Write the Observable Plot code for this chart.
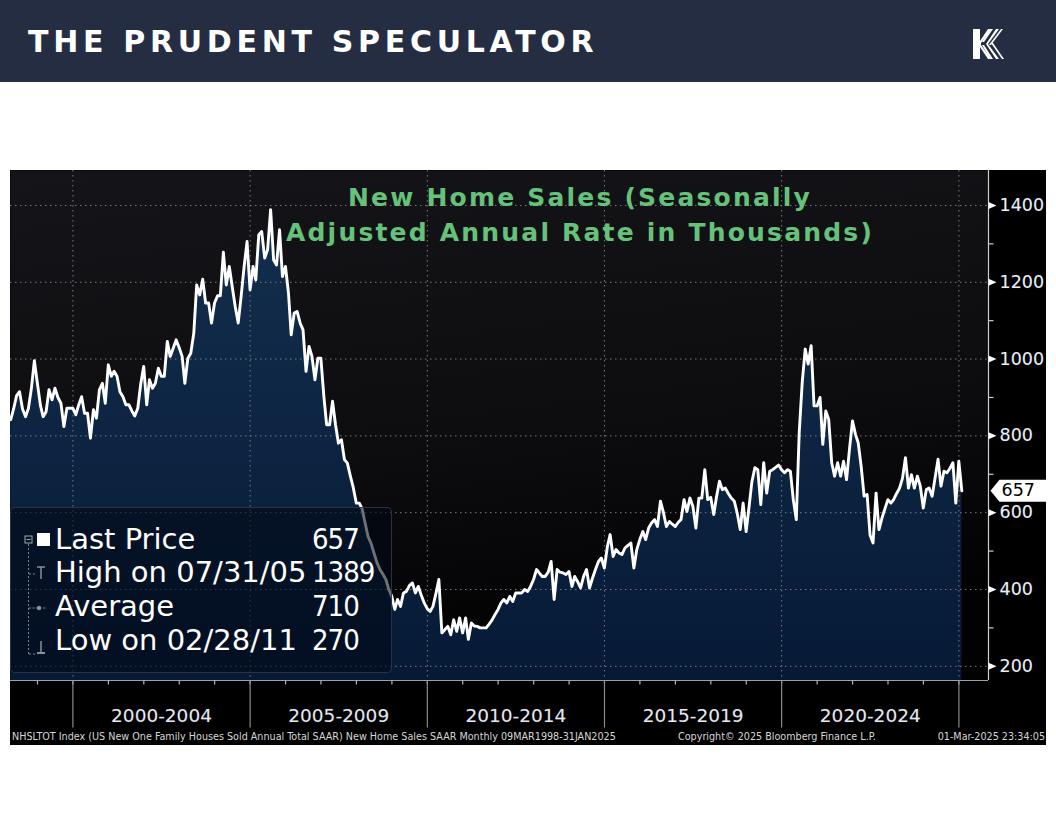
<!DOCTYPE html>
<html><head><meta charset="utf-8">
<script src="https://cdn.jsdelivr.net/npm/d3@7"></script>
<script src="https://cdn.jsdelivr.net/npm/@observablehq/plot@0.6"></script>
<style>
body{margin:0;width:1056px;height:816px;background:#fff;position:relative;overflow:hidden;font-family:"DejaVu Sans",sans-serif}
#header{position:absolute;left:0;top:0;width:1056px;height:82px;background:#252d42}
#brand{position:absolute;left:28px;top:24px;color:#fff;font-weight:700;font-size:30px;font-family:"DejaVu Sans";letter-spacing:4.7px;white-space:nowrap}
#logo{position:absolute;left:970px;top:26px}
#chart{position:absolute;left:10px;top:170px;width:1036px;height:575px;background:#000;overflow:hidden}
#title{position:absolute;left:220px;top:10px;width:700px;text-align:center;color:#66c27a;font-weight:700;font-size:25px;line-height:35px;letter-spacing:2.2px;font-family:"DejaVu Sans"}
#legend{position:absolute;left:0px;top:337px;width:382px;height:166px;background:rgba(1,8,20,0.58);border:1px solid rgba(45,55,75,0.9);border-radius:5px;box-sizing:border-box}
.lrow{position:absolute;left:44px;color:#fff;font-size:29px;font-family:"DejaVu Sans";white-space:nowrap;line-height:1}
.lval{position:absolute;left:301px;color:#fff;font-size:29px;font-family:"DejaVu Sans Condensed","DejaVu Sans";letter-spacing:-1px;white-space:nowrap;line-height:1}
#lic{position:absolute;left:0;top:0}
.foot{position:absolute;top:562px;color:#d6d6d6;font-size:10.7px;font-family:"DejaVu Sans Condensed","DejaVu Sans";white-space:nowrap;line-height:1}
</style></head>
<body>
<div id="header"><div id="brand">THE PRUDENT SPECULATOR</div>
<svg id="logo" width="34" height="36" viewBox="0 0 34 36">
 <path d="M3 3 h7 v12 l8 -12 h3 l-10 14 v2 l10 14 h-3 l-8 -12 v12 h-7 z" fill="#fff"/>
 <path d="M20 3 h3 l-9 13 h-2 z M26 3 h3 l-11 15 h-2 z M31 3 h2 l-12 16 h-2 z" fill="#fff"/>
 <path d="M12 19 h2 l9 14 h-3 z M16 18 h2 l11 15 h-3 z M21 17 h2 l11 16 h-2 z" fill="#fff"/>
</svg>
</div>
<div id="chart"></div>
<script>
// ---- data (monthly, NHSLTOT, thousands SAAR), Mar 1998 .. Jan 2025 ----
const seriesStart = [1998, 3]; // year, month of first value
const sales = [
  // 1998 Mar-Dec
  842, 870, 905, 915, 870, 850, 872, 925, 996, 937,
  // 1999
  880, 850, 863, 920, 894, 924, 900, 885, 824, 872, 872, 872,
  // 2000
  855, 880, 902, 859, 859, 794, 868, 846, 920, 937, 885, 985,
  // 2001
  955, 968, 955, 915, 902, 881, 881, 865, 852, 872, 935, 981,
  // 2002
  881, 946, 924, 937, 976, 955, 955, 1046, 1007, 1028, 1050, 1030,
  // 2003
  1007, 937, 1002, 1015, 1067, 1193, 1167, 1208, 1146, 1146, 1094, 1146,
  // 2004
  1165, 1165, 1278, 1193, 1241, 1189, 1137, 1094, 1163, 1241, 1306, 1180,
  // 2005
  1241, 1206, 1324, 1332, 1263, 1285, 1389, 1258, 1245, 1337, 1215, 1241,
  // 2006
  1172, 1063, 1120, 1124, 1094, 1076, 968, 1033, 1007, 946, 1002, 1002,
  // 2007
  902, 829, 829, 890, 829, 781, 790, 738, 729, 695, 665, 625,
  // 2008
  625, 610, 573, 538, 520, 495, 470, 452, 440, 426, 400, 382,
  // 2009
  348, 374, 356, 391, 395, 410, 417, 391, 408, 385, 365, 350,
  // 2010
  343, 356, 390, 426, 287, 295, 304, 282, 321, 291, 326, 287,
  // 2011
  326, 270, 313, 305, 304, 300, 300, 300, 310, 321, 335, 348,
  // 2012
  365, 374, 365, 382, 369, 391, 391, 391, 400, 395, 408, 426,
  // 2013
  452, 443, 434, 434, 445, 473, 374, 452, 445, 443, 439, 447,
  // 2014
  408, 434, 420, 404, 434, 452, 404, 430, 452, 473, 482, 456,
  // 2015
  512, 543, 486, 504, 495, 491, 508, 515, 521, 456, 504, 530,
  // 2016
  551, 530, 560, 573, 582, 564, 630, 600, 564, 577, 570, 564,
  // 2017
  575, 582, 634, 603, 638, 617, 560, 638, 638, 712, 634, 640,
  // 2018
  595, 640, 682, 660, 664, 650, 638, 630, 599, 556, 625, 551,
  // 2019
  617, 680, 717, 712, 621, 730, 651, 708, 712, 718, 724, 712,
  // 2020
  704, 712, 708, 634, 582, 808, 939, 1026, 987, 1035, 878, 878,
  // 2021
  900, 778, 865, 843, 730, 695, 730, 695, 734, 686, 765, 839,
  // 2022
  804, 782, 720, 643, 647, 542, 521, 651, 556, 586, 610, 634,
  // 2023
  625, 634, 650, 664, 690, 743, 664, 699, 664, 695, 669, 612,
  // 2024
  660, 664, 643, 690, 739, 669, 708, 704, 715, 730, 625, 734,
  // 2025 Jan
  657
];
const yTicks = [200, 400, 600, 800, 1000, 1200, 1400];
const yMinor = [300, 500, 700, 900, 1100, 1300];
const periodLabels = ["2000-2004", "2005-2009", "2010-2014", "2015-2019", "2020-2024"];
const periodStarts = [2000, 2005, 2010, 2015, 2020, 2025];
const yearTicks = d3.range(1999, 2026);
const titleLines = ["New Home Sales (Seasonally", "Adjusted Annual Rate in Thousands)"];
const legendLabels = ["Last Price", "High on 07/31/05", "Average", "Low on 02/28/11"];
const legendValues = [657, 1389, 710, 270];
const footLeft = "NHSLTOT Index (US New One Family Houses Sold Annual Total SAAR) New Home Sales SAAR  Monthly 09MAR1998-31JAN2025";
const footMid = "Copyright\u00A9 2025 Bloomberg Finance L.P.";
const footRight = "01-Mar-2025 23:34:05";

// ---- build table ----
const data = sales.map((v, i) => ({date: new Date(seriesStart[0], seriesStart[1] - 1 + i + 1, 0), value: v}));
const lastValue = sales[sales.length - 1];
const x0 = new Date(1998, 2, 29), x1 = new Date(2025, 10, 2);
const yMin = 163, yMax = 1491;

const tri = {draw(c){ c.moveTo(0,-3.5); c.lineTo(8,0); c.lineTo(0,3.5); c.closePath(); }};
const minorTick = {draw(c){ c.moveTo(0,0); c.lineTo(5,0); }};
const yearTick = {draw(c){ c.moveTo(0,0); c.lineTo(0,4); }};
const sepTick = {draw(c){ c.moveTo(0,0); c.lineTo(0,47); }};
const priceTag = {draw(c){ c.moveTo(2,0); c.lineTo(11,-11); c.lineTo(70,-11); c.lineTo(70,11); c.lineTo(11,11); c.closePath(); }};

const plot = Plot.plot({
  width: 1036, height: 575,
  marginTop: 0, marginLeft: 0, marginRight: 58, marginBottom: 65,
  style: {background: "transparent", overflow: "visible", fontFamily: "DejaVu Sans"},
  x: {type: "time", domain: [x0, x1], axis: null},
  y: {domain: [yMin, yMax], axis: null},
  marks: [
    Plot.frame({fill: "url(#bgGrad)", stroke: "none"}),
    Plot.areaY(data, {x: "date", y1: yMin, y2: "value", fill: "url(#areaGrad)"}),
    Plot.ruleY(yTicks, {stroke: "#7a7a7a", strokeWidth: 1, strokeDasharray: "1.5,3.5"}),
    Plot.ruleX(periodStarts.map(y => new Date(y, 0, 1)), {stroke: "#7a7a7a", strokeWidth: 1, strokeDasharray: "1.5,3.5"}),
    Plot.lineY(data, {x: "date", y: "value", stroke: "#ffffff", strokeWidth: 2.9, strokeLinejoin: "round"}),
    Plot.ruleX([x1], {stroke: "#cfcfcf", strokeWidth: 1.2}),
    Plot.ruleY([yMin], {stroke: "#9aa3ad", strokeWidth: 1.2}),
    Plot.dot(yMinor, {x: () => x1, y: d => d, symbol: minorTick, stroke: "#cfcfcf", strokeWidth: 1.2, r: 3}),
    Plot.dot(yTicks, {x: () => x1, y: d => d, symbol: tri, fill: "#ffffff", stroke: "none", r: 3}),
    Plot.text(yTicks, {x: () => x1, y: d => d, text: d => String(d), dx: 11, textAnchor: "start", fill: "#eeeeee", fontSize: 17.5, stroke: "#1b2a55", strokeWidth: 0.6}),
    Plot.dot(yearTicks, {x: d => new Date(d, 0, 1), y: () => yMin, symbol: yearTick, stroke: "#b5b5b5", strokeWidth: 1.2, r: 3}),
    Plot.dot(periodStarts, {x: d => new Date(d, 0, 1), y: () => yMin, symbol: sepTick, stroke: "#8a8a8a", strokeWidth: 1.2, r: 3}),
    Plot.text(periodLabels, {x: (d, i) => new Date((new Date(periodStarts[i], 0, 1).getTime() + new Date(periodStarts[i + 1], 0, 1).getTime()) / 2), y: () => yMin, text: d => d, dy: 36, fill: "#e8e8e8", fontSize: 18.5, stroke: "#1b2a55", strokeWidth: 0.5}),
    Plot.dot([lastValue], {x: () => x1, y: d => d, symbol: priceTag, fill: "#ffffff", stroke: "none", r: 3}),
    Plot.text([lastValue], {x: () => x1, y: d => d, text: d => String(d), dx: 13, textAnchor: "start", fill: "#000", fontSize: 17.5})
  ]
});

// gradients
const svg = d3.select(plot);
const defs = svg.insert("defs", ":first-child");
const bg = defs.append("linearGradient").attr("id", "bgGrad").attr("x1", 0).attr("y1", 0).attr("x2", 0.25).attr("y2", 1);
bg.append("stop").attr("offset", "0%").attr("stop-color", "#151519");
bg.append("stop").attr("offset", "60%").attr("stop-color", "#0d0d10");
bg.append("stop").attr("offset", "100%").attr("stop-color", "#020203");
const ag = defs.append("linearGradient").attr("id", "areaGrad").attr("gradientUnits", "userSpaceOnUse").attr("x1", 0).attr("y1", 0).attr("x2", 0).attr("y2", 510);
ag.append("stop").attr("offset", "0%").attr("stop-color", "#14304f");
ag.append("stop").attr("offset", "100%").attr("stop-color", "#061a36");

const chart = document.getElementById("chart");
chart.appendChild(plot);

// title
const t = document.createElement("div");
t.id = "title";
t.innerHTML = titleLines.join("<br>");
chart.appendChild(t);

// legend
const lg = document.createElement("div");
lg.id = "legend";
const rowTops = [17, 50, 84, 118];
let icons = `<svg id="lic" width="44" height="165">
 <line x1="17.5" y1="36" x2="17.5" y2="146" stroke="#7d8590" stroke-dasharray="2,2"/>
 <rect x="14" y="28" width="7" height="7" fill="none" stroke="#9aa" stroke-width="1"/>
 <line x1="15.5" y1="31.5" x2="19.5" y2="31.5" stroke="#9aa"/>
 <rect x="26" y="25" width="13" height="13" fill="#fff"/>
 <line x1="18" y1="66" x2="24" y2="66" stroke="#7d8590" stroke-dasharray="2,2"/>
 <line x1="26" y1="59" x2="34" y2="59" stroke="#8a8f98" stroke-width="1.5"/><line x1="30" y1="59" x2="30" y2="71" stroke="#8a8f98" stroke-width="1.5"/>
 <line x1="18" y1="100" x2="36" y2="100" stroke="#8a8f98" stroke-dasharray="2,1.5"/><circle cx="28" cy="100" r="2.2" fill="#8a8f98"/>
 <line x1="18" y1="146" x2="24" y2="146" stroke="#7d8590" stroke-dasharray="2,2"/>
 <line x1="30" y1="133" x2="30" y2="145" stroke="#8a8f98" stroke-width="1.5"/><line x1="26" y1="145" x2="34" y2="145" stroke="#8a8f98" stroke-width="2"/>
</svg>`;
lg.innerHTML = icons + legendLabels.map((l, i) => `<div class="lrow" style="top:${rowTops[i]}px">${l}</div><div class="lval" style="top:${rowTops[i]}px">${legendValues[i]}</div>`).join("");
chart.appendChild(lg);

// footer
[[footLeft, "left:2px"], [footMid, "left:668px"], [footRight, "right:1px"]].forEach(([s, pos]) => {
  const f = document.createElement("div");
  f.className = "foot"; f.setAttribute("style", pos); f.textContent = s;
  chart.appendChild(f);
});
</script>
</body></html>
